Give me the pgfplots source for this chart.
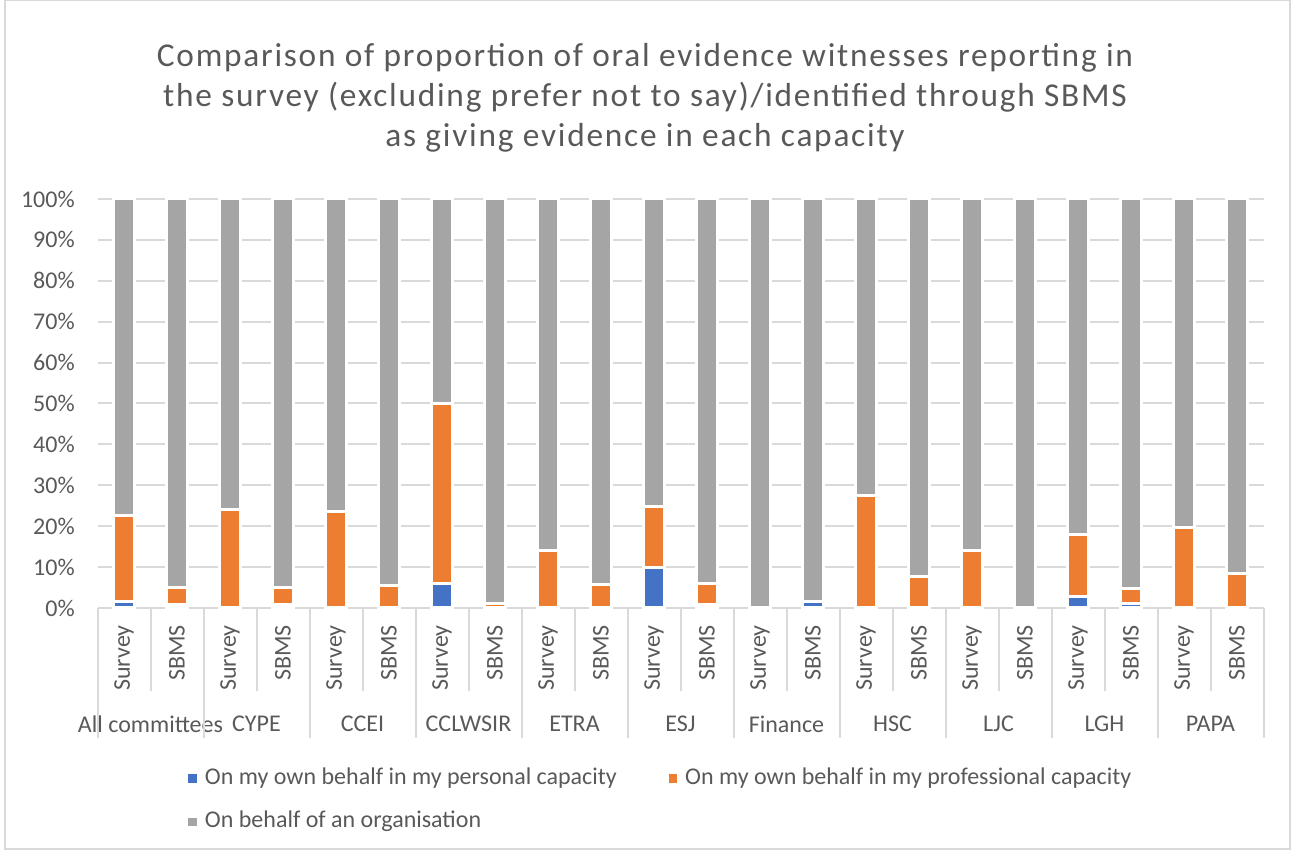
\documentclass[border=0pt]{standalone}
\usepackage{pgfplots}
\pgfplotsset{compat=1.18}
\usepackage{pgfplotstable}
\usepackage{fontspec}
\setmainfont{Carlito}
\newfontfamily\titlefont[LetterSpace=5.3]{Carlito}

\definecolor{cBlue}{HTML}{4472C4}
\definecolor{cOrange}{HTML}{ED7D31}
\definecolor{cGray}{HTML}{A5A5A5}
\definecolor{txt}{HTML}{595959}
\definecolor{gridc}{HTML}{D9D9D9}
\newcommand\lbl{\fontsize{14.4}{17}\selectfont}

% share of witnesses (%) per bar: personal, professional, organisation
\pgfplotstableread{
x blue orange org
0  1.5 21.0 77.5
1  0.9  4.1 95.0
2  0.0 24.1 75.9
3  0.8  4.3 94.9
4  0.0 23.5 76.5
5  0.0  5.4 94.6
6  6.0 44.0 50.0
7  0.0  1.0 99.0
8  0.0 14.1 85.9
9  0.0  5.7 94.3
10 9.8 15.0 75.2
11 0.8  5.2 94.0
12 0.0  0.0 100.0
13 1.6  0.0 98.4
14 0.0 27.6 72.4
15 0.0  7.8 92.2
16 0.0 14.1 85.9
17 0.0  0.0 100.0
18 2.9 15.0 82.1
19 1.0  3.8 95.2
20 0.0 19.8 80.2
21 0.0  8.5 91.5
}\capacity

\begin{document}
\begin{tikzpicture}
\useasboundingbox (0,0) rectangle (774.6pt,510pt);
\draw[gridc, line width=0.8pt] (3pt,0.5pt) rectangle (774pt,509.5pt);
\node[txt, align=center, font=\titlefont\fontsize{20}{24}\selectfont] at (387pt,451.2pt)
  {Comparison of proportion of oral evidence witnesses reporting in\\
   the survey (excluding prefer not to say)/identified through SBMS\\
   as giving evidence in each capacity};
\begin{axis}[
  scale only axis, width=699.6pt, height=245.4pt,
  at={(58.5pt,145.2pt)}, anchor=south west,
  ybar stacked, bar width=0.4,
  xmin=-0.5, xmax=21.5, ymin=0, ymax=100,
  axis x line*=bottom, axis y line*=left,
  y axis line style={draw=none},
  x axis line style={gridc, line width=1.2pt},
  major tick length=0pt,
  ymajorgrids, grid style={gridc, line width=1.2pt},
  ytick={0,10,...,100},
  yticklabels={0\%,10\%,20\%,30\%,40\%,50\%,60\%,70\%,80\%,90\%,100\%},
  yticklabel style={txt, font=\lbl, inner sep=0pt, xshift=-13.5pt},
  xtick={0,...,21},
  xticklabels={Survey,SBMS,Survey,SBMS,Survey,SBMS,Survey,SBMS,Survey,SBMS,Survey,SBMS,
               Survey,SBMS,Survey,SBMS,Survey,SBMS,Survey,SBMS,Survey,SBMS},
  xticklabel style={txt, font=\lbl, rotate=90, anchor=east, inner sep=0pt},
  xticklabel shift=10.2pt,
  clip=false,
  legend cell align=left,
  legend style={at={(0.0733,-0.381)}, anchor=north west, draw=none, fill=none,
    font=\lbl, text=txt, legend columns=2,
    nodes={inner sep=0pt, text height=10pt, text depth=3pt},
    row sep=13.2pt,
    /tikz/every odd column/.append style={column sep=4.8pt},
    /tikz/every even column/.append style={column sep=31pt}},
  legend image code/.code={\fill[#1,draw=none] (0pt,-2.6pt) rectangle (5.2pt,2.6pt);},
]
\addplot[fill=cBlue, draw=white, line width=1.8pt] table[x=x, y=blue] {\capacity};
\addplot[fill=cOrange, draw=white, line width=1.8pt] table[x=x, y=orange] {\capacity};
\addplot[fill=cGray, draw=white, line width=1.8pt] table[x=x, y=org] {\capacity};
\legend{On my own behalf in my personal capacity,
        On my own behalf in my professional capacity,
        On behalf of an organisation}

\pgfplotsinvokeforeach{-0.5,1.5,...,21.5}{
  \draw[gridc, line width=1.2pt] (axis cs:#1,0) -- ++(0pt,-78pt);}
\pgfplotsinvokeforeach{0.5,2.5,...,20.5}{
  \draw[gridc, line width=1.2pt] (axis cs:#1,0) -- ++(0pt,-49.8pt);}

\node[txt, font=\lbl, yshift=-69.6pt] at (axis cs:0.5,0) {All committees};
\node[txt, font=\lbl, yshift=-69.6pt] at (axis cs:2.5,0) {CYPE};
\node[txt, font=\lbl, yshift=-69.6pt] at (axis cs:4.5,0) {CCEI};
\node[txt, font=\lbl, yshift=-69.6pt] at (axis cs:6.5,0) {CCLWSIR};
\node[txt, font=\lbl, yshift=-69.6pt] at (axis cs:8.5,0) {ETRA};
\node[txt, font=\lbl, yshift=-69.6pt] at (axis cs:10.5,0) {ESJ};
\node[txt, font=\lbl, yshift=-69.6pt] at (axis cs:12.5,0) {Finance};
\node[txt, font=\lbl, yshift=-69.6pt] at (axis cs:14.5,0) {HSC};
\node[txt, font=\lbl, yshift=-69.6pt] at (axis cs:16.5,0) {LJC};
\node[txt, font=\lbl, yshift=-69.6pt] at (axis cs:18.5,0) {LGH};
\node[txt, font=\lbl, yshift=-69.6pt] at (axis cs:20.5,0) {PAPA};
\end{axis}
\end{tikzpicture}
\end{document}
